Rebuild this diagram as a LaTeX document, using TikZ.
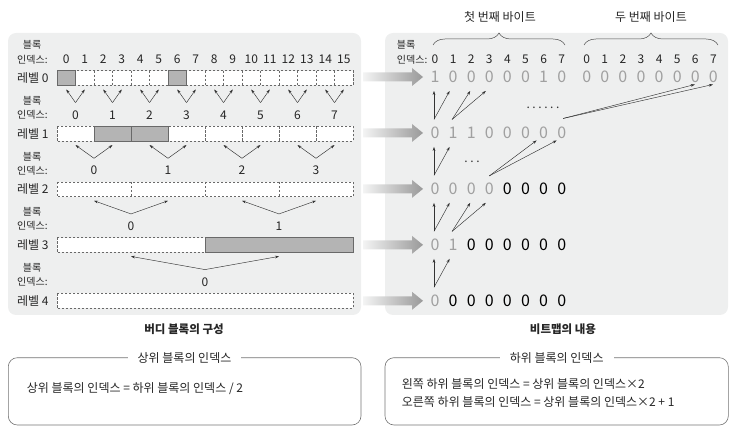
\documentclass[tikz,border=0pt]{standalone}
\usepackage{fontspec}
\setmainfont{Noto Sans CJK KR}
\usetikzlibrary{arrows.meta,calc,decorations.pathreplacing}
\definecolor{panelgray}{RGB}{238,239,239}
\definecolor{cellgray}{RGB}{180,180,180}
\definecolor{bitgray}{RGB}{160,160,160}
\definecolor{linegray}{RGB}{105,105,105}
\tikzset{
  lbl/.style={font=\fontsize{10}{10}\selectfont, inner sep=0pt, text=black!85},
  lvl/.style={font=\fontsize{12}{12}\selectfont, inner sep=0pt, text=black!85},
  idx/.style={font=\fontsize{12}{12}\selectfont, inner sep=0pt, text=black!85},
  cell/.style={inner sep=0pt, minimum height=14.5pt, fill=white},
  dashbox/.style={draw=linegray, line width=0.5pt, dash pattern=on 2.4pt off 1.6pt},
  usedbox/.style={draw=linegray, line width=0.5pt, fill=cellgray},
  tip/.style={-{Stealth[length=4pt,width=2.8pt]}, draw=black!80, line width=0.45pt},
  bit/.style={font=\fontsize{16}{16}\selectfont, inner sep=0pt},
  brc/.style={decorate, decoration={brace, amplitude=12pt}, draw=black!70, line width=0.5pt},
  caption/.style={font=\fontsize{11.5}{11.5}\selectfont\bfseries, inner sep=0pt, text=black!85},
  boxline/.style={draw=black!55, line width=0.6pt, rounded corners=9pt},
  boxtitle/.style={font=\fontsize{12}{12}\selectfont, fill=white, inner xsep=10pt, inner ysep=2pt, text=black!85},
  body/.style={font=\fontsize{12}{12}\selectfont, inner sep=0pt, text=black!85, anchor=west},
  dotrow/.style={font=\fontsize{12}{12}\selectfont, inner sep=0pt, text=black!80}
}
\begin{document}
\begin{tikzpicture}[x=1pt,y=-1pt]
\useasboundingbox (0,0) rectangle (749,435);
\fill[panelgray, rounded corners=8pt] (8,33) rectangle (361,315);
\fill[panelgray, rounded corners=8pt] (385,33) rectangle (728,315);

\foreach \k/\n in {0/16,1/8,2/4,3/2,4/1} {
  \pgfmathsetmacro\w{296/\n}
  \pgfmathsetmacro\yc{78+55.65*\k}
  \pgfmathtruncatemacro\last{\n-1}
  \node[lvl, anchor=west] (lv-\k) at (17,\yc) {레벨 \k};
  \node[lbl] (bl-\k) at (32,\yc-33) {블록};
  \node[lbl, anchor=west] (ix-\k) at (17,\yc-18.7) {인덱스:};
  \foreach \i in {0,...,\last} {
    \node[cell, minimum width=\w pt] (c-\k-\i) at (57+\w*\i+\w/2,\yc) {};
    \node[idx] (n-\k-\i) at (57+\w*\i+\w/2,\yc-18.7) {\i};
  }
  \draw[dashbox] (c-\k-0.north west) rectangle (c-\k-\last.south east);
  \ifnum\n>1
    \foreach \i in {1,...,\last} \draw[dashbox] (c-\k-\i.north west) -- (c-\k-\i.south west);
  \fi
}
\foreach \k/\i in {0/0,0/6,1/1,1/2,3/1}
  \draw[usedbox] (c-\k-\i.north west) rectangle (c-\k-\i.south east);

\foreach \k in {1,...,4} {
  \pgfmathtruncatemacro\n{16/2^\k}
  \pgfmathtruncatemacro\last{\n-1}
  \pgfmathtruncatemacro\pk{\k-1}
  \foreach \i in {0,...,\last} {
    \pgfmathtruncatemacro\lc{2*\i}
    \pgfmathtruncatemacro\rc{2*\i+1}
    \coordinate (v-\k-\i) at ($(c-\k-\i)+(0,-31)$);
    \draw[tip] (v-\k-\i) -- ([yshift=-4pt]c-\pk-\lc.south);
    \draw[tip] (v-\k-\i) -- ([yshift=-4pt]c-\pk-\rc.south);
  }
}

\foreach \k in {0,...,4} {
  \pgfmathsetmacro\yc{77+55.95*\k}
  \shade[left color=panelgray!70!white, right color=black!40]
    (363,\yc-4.5) -- (412,\yc-4.5) -- (412,\yc-9) -- (423,\yc)
    -- (412,\yc+9) -- (412,\yc+4.5) -- (363,\yc+4.5) -- cycle;
}

\node[lbl] (bl-r) at (406,45) {블록};
\node[lbl, anchor=east] (ix-r) at (427.5,59.3) {인덱스:};
\foreach \i in {0,...,7} {
  \node[idx] (h-\i) at (435+18.1*\i,59.3) {\i};
  \node[idx] (hh-\i) at (586.7+18.1*\i,59.3) {\i};
}
\draw[brc] (433,45) -- (565,45);
\draw[brc] (584,45) -- (718,45);
\node[lvl] (byte-1) at (500,16.7) {첫 번째 바이트};
\node[lvl] (byte-2) at (651,16.7) {두 번째 바이트};

\foreach \r/\bits in {0/{1,0,0,0,0,0,1,0,0,0,0,0,0,0,0,0},1/{0,1,1,0,0,0,0,0},
    2/{0,0,0,0,0,0,0,0},3/{0,1,0,0,0,0,0,0},4/{0,0,0,0,0,0,0,0}} {
  \pgfmathtruncatemacro\nr{16/2^\r}
  \pgfmathsetmacro\by{77+55.95*\r}
  \foreach \v [count=\j from 0] in \bits {
    \pgfmathsetmacro\bx{\j<8 ? 435+18.1*\j : 586.7+18.1*(\j-8)}
    \ifnum\j<\nr \def\tc{bitgray}\else\def\tc{black}\fi
    \node[bit, text=\tc] (b-\r-\j) at (\bx,\by) {\v};
  }
}

\foreach \c/\j/\p/\a/\b in {1/0/0/0/1,1/1/0/2/3,2/0/1/0/1,3/0/2/0/1,3/1/2/2/3,4/0/3/0/1} {
  \draw[tip] ($(b-\c-\j)+(-1,-13.5)$) -- ($(b-\p-\a)+(-1,14)$);
  \draw[tip] ($(b-\c-\j)+(-1,-13.5)$) -- ($(b-\p-\b)+(-3.5,14)$);
}
\draw[tip] ($(b-1-7)+(1.5,-14.5)$) -- ($(b-0-14)+(-0.5,7.5)$);
\draw[tip] ($(b-1-7)+(1.5,-14.5)$) -- ($(b-0-15)+(-0.5,7.5)$);
\draw[tip] ($(b-2-3)+(0,-13)$) -- ($(b-1-6)+(-7,7.5)$);
\draw[tip] ($(b-2-3)+(0,-13)$) -- ($(b-1-7)+(-5,7.5)$);
\node[dotrow] (dots-1) at (543,108) {.\hskip2.6pt.\hskip2.6pt.\hskip2.6pt.\hskip2.6pt.\hskip2.6pt.};
\node[dotrow] (dots-2) at (472,162) {.\hskip2.6pt.\hskip2.6pt.};

\node[caption] (cap-l) at (184,329) {버디 블록의 구성};
\node[caption] (cap-r) at (563,329) {비트맵의 내용};

\draw[boxline] (8.3,357.7) rectangle (361,425);
\node[boxtitle] (ttl-l) at (184.5,357.7) {상위 블록의 인덱스};
\node[body] (eq-l) at (26.7,389) {상위 블록의 인덱스 = 하위 블록의 인덱스 / 2};
\draw[boxline] (385,357.7) rectangle (728.3,425);
\node[boxtitle] (ttl-r) at (556.7,357.7) {하위 블록의 인덱스};
\node[body] (eq-r1) at (401.7,384) {왼쪽 하위 블록의 인덱스 = 상위 블록의 인덱스×2};
\node[body] (eq-r2) at (401.7,402) {오른쪽 하위 블록의 인덱스 = 상위 블록의 인덱스×2 + 1};
\end{tikzpicture}
\end{document}
